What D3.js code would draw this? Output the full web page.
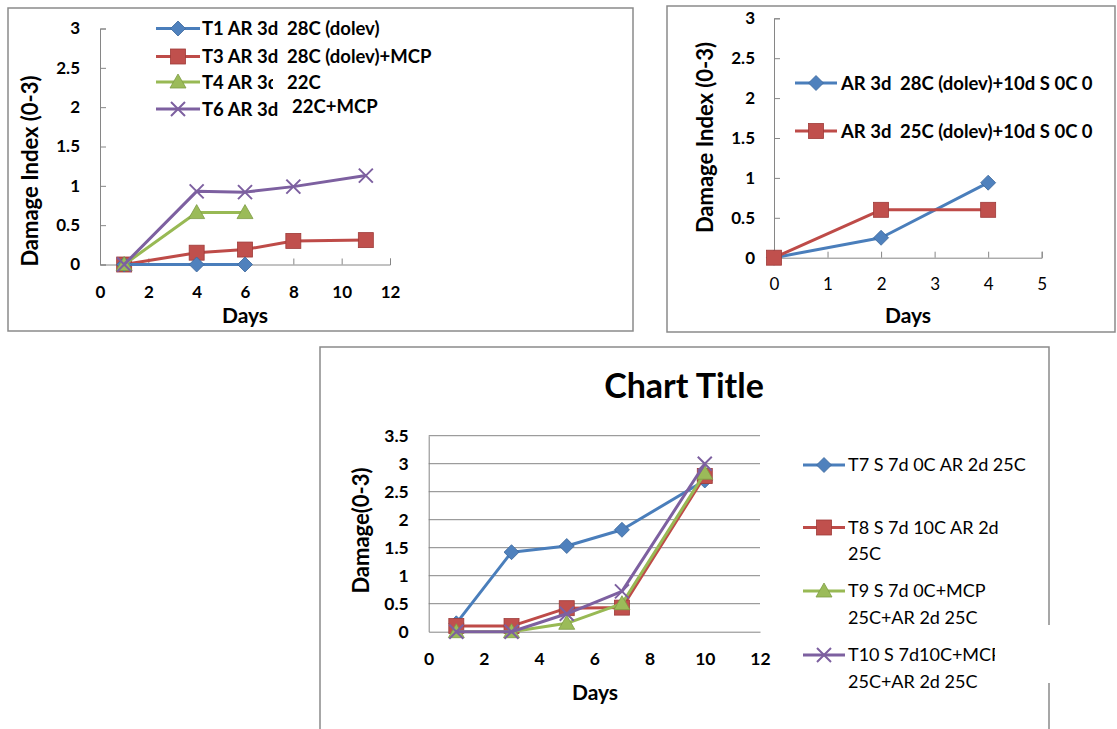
<!DOCTYPE html>
<html>
<head>
  <meta charset="utf-8" />
  <title>Damage index charts</title>
  <script src="https://cdn.jsdelivr.net/npm/d3@7"></script>
  <style>
    body{ margin:0; background:white; }
    text{ font-family: Lato, "Open Sans", sans-serif; fill:#000; }
  </style>
</head>
<body>
<script>
// - - - - - DATA - - - - - //
// chart A (top left)
var daysA_short = [1, 4, 6];
var daysA_long = [1, 4, 6, 8, 11];
var t1 = [0, 0, 0];
var t3 = [0, 0.15, 0.19, 0.30, 0.31];
var t4 = [0, 0.66, 0.66];
var t6 = [0, 0.93, 0.92, 0.99, 1.13];
var labelsA = [["T1 AR 3d", "28C (dolev)"], ["T3 AR 3d", "28C (dolev)+MCP"], ["T4 AR 3d", "22C"], ["T6 AR 3d", "22C+MCP"]];
var xTicksA = [0, 2, 4, 6, 8, 10, 12];
var yTicksA = [0, 0.5, 1, 1.5, 2, 2.5, 3];

// chart B (top right)
var daysB = [0, 2, 4];
var b28 = [0, 0.25, 0.94];
var b25 = [0, 0.60, 0.60];
var labelsB = [["AR 3d", "28C (dolev)+10d S 0C 0"], ["AR 3d", "25C (dolev)+10d S 0C 0"]];
var xTicksB = [0, 1, 2, 3, 4, 5];
var yTicksB = [0, 0.5, 1, 1.5, 2, 2.5, 3];

// chart C (bottom)
var daysC = [1, 3, 5, 7, 10];
var t7 = [0.15, 1.42, 1.53, 1.82, 2.70];
var t8 = [0.10, 0.10, 0.42, 0.43, 2.78];
var t9 = [0, 0, 0.15, 0.50, 2.83];
var t10 = [0, 0, 0.32, 0.72, 3.00];
var labelsC = [["T7 S 7d 0C AR 2d 25C"], ["T8 S 7d 10C AR 2d", "25C"], ["T9 S 7d 0C+MCP", "25C+AR 2d 25C"], ["T10 S 7d10C+MCP", "25C+AR 2d 25C"]];
var xTicksC = [0, 2, 4, 6, 8, 10, 12];
var yTicksC = [0, 0.5, 1, 1.5, 2, 2.5, 3, 3.5];

// - - - - - STYLE - - - - - //
var colors = {
  blue:   {line:"#4A7EBB", fill:"#4F81BD", edge:"#3C679A"},
  red:    {line:"#BE4B48", fill:"#C0504D", edge:"#9E3B39"},
  green:  {line:"#98B954", fill:"#9BBB59", edge:"#7E9C45"},
  purple: {line:"#7D60A0", fill:"#8064A2", edge:"#7D60A0"}
};
var axisGray = "#868686";
var boxGray = "#8a8a8a";
var fmt = d3.format("");

var svg = d3.select("body").append("svg")
  .attr("width", 1117).attr("height", 729);

var defs = svg.append("defs");
defs.append("clipPath").attr("id", "clipT4")
  .append("rect").attr("x", 190).attr("y", 60).attr("width", 83).attr("height", 40);
defs.append("clipPath").attr("id", "clipT10")
  .append("rect").attr("x", 840).attr("y", 630).attr("width", 155).attr("height", 40);

// - - - - - CHART BOXES - - - - - //
svg.append("rect").attr("x", 8).attr("y", 8).attr("width", 625).attr("height", 323)
  .attr("fill", "none").attr("stroke", boxGray).attr("stroke-width", 1.5);
svg.append("rect").attr("x", 667).attr("y", 6).attr("width", 448).attr("height", 326)
  .attr("fill", "none").attr("stroke", boxGray).attr("stroke-width", 1.5);
svg.append("path").attr("d", "M320,729 L320,347 L1049,347 L1049,625 M1049,683 L1049,729")
  .attr("fill", "none").attr("stroke", boxGray).attr("stroke-width", 1.5);

// - - - - - MARKERS - - - - - //
var drawMarker = function(g, shape, c, x, y){
  if(shape == "diamond"){
    g.append("path").attr("d", "M0,-7.5L7.5,0L0,7.5L-7.5,0Z")
      .attr("transform", "translate(" + x + "," + y + ")")
      .attr("fill", c.fill).attr("stroke", c.edge).attr("stroke-width", 0.8);
  } else if(shape == "square"){
    g.append("rect").attr("x", x - 7.5).attr("y", y - 7.5).attr("width", 15).attr("height", 15)
      .attr("fill", c.fill).attr("stroke", c.edge).attr("stroke-width", 0.8);
  } else if(shape == "triangle"){
    g.append("path").attr("d", "M0,-8L8,6L-8,6Z")
      .attr("transform", "translate(" + x + "," + y + ")")
      .attr("fill", c.fill).attr("stroke", c.edge).attr("stroke-width", 0.8);
  } else {
    g.append("path").attr("d", "M-7,-7L7,7M-7,7L7,-7")
      .attr("transform", "translate(" + x + "," + y + ")")
      .attr("fill", "none").attr("stroke", c.line).attr("stroke-width", 2);
  }
};

var drawSeries = function(g, xs, ys, days, vals, shape, c){
  var pts = days.map(function(d, i){ return [d, vals[i]]; });
  var line = d3.line().x(function(p){ return xs(p[0]); }).y(function(p){ return ys(p[1]); });
  g.append("path").datum(pts).attr("d", line)
    .attr("fill", "none").attr("stroke", c.line).attr("stroke-width", 3)
    .attr("stroke-linejoin", "round");
  pts.forEach(function(p){ drawMarker(g, shape, c, xs(p[0]), ys(p[1])); });
};

var legendKey = function(g, x0, x1, y, shape, c){
  g.append("line").attr("x1", x0).attr("x2", x1).attr("y1", y).attr("y2", y)
    .attr("stroke", c.line).attr("stroke-width", 3);
  drawMarker(g, shape, c, (x0 + x1) / 2, y);
};

var styleAxis = function(a, size, weight){
  a.select(".domain").attr("stroke", axisGray);
  a.selectAll(".tick line").attr("stroke", axisGray);
  a.selectAll("text").style("font-family", "Lato, sans-serif")
    .attr("font-size", size).attr("font-weight", weight).attr("fill", "#000");
};

// - - - - - CHART A - - - - - //
var gA = svg.append("g");
var xA = d3.scaleLinear().domain([0, 12]).range([100, 390]);
var yA = d3.scaleLinear().domain([0, 3]).range([264.5, 28.5]);

var axA = gA.append("g").attr("transform", "translate(0," + yA(0) + ")")
  .call(d3.axisBottom(xA).tickValues(xTicksA).tickFormat(fmt).tickSize(-6).tickSizeOuter(-6).tickPadding(21));
styleAxis(axA, 17, "bold");
var ayA = gA.append("g").attr("transform", "translate(" + xA(0) + ",0)")
  .call(d3.axisLeft(yA).tickValues(yTicksA).tickFormat(fmt).tickSize(-6).tickSizeOuter(-6).tickPadding(20));
styleAxis(ayA, 17, "bold");

gA.append("text").attr("x", 245).attr("y", 323).attr("text-anchor", "middle")
  .attr("font-size", 21).attr("font-weight", "bold").text("Days");
gA.append("text").attr("transform", "translate(37.5,171) rotate(-90)").attr("text-anchor", "middle")
  .attr("font-size", 22).attr("font-weight", "bold").text("Damage Index (0-3)");

drawSeries(gA, xA, yA, daysA_long, t3, "square", colors.red);
drawSeries(gA, xA, yA, daysA_short, t1, "diamond", colors.blue);
drawSeries(gA, xA, yA, daysA_short, t4, "triangle", colors.green);
drawSeries(gA, xA, yA, daysA_long, t6, "x", colors.purple);

var legA = gA.append("g");
var rowsA = [28.5, 56.5, 82, 109];
var shapesA = ["diamond", "square", "triangle", "x"];
var colsA = [colors.blue, colors.red, colors.green, colors.purple];
labelsA.forEach(function(l, i){
  legendKey(legA, 156, 200, rowsA[i], shapesA[i], colsA[i]);
  var t = legA.append("text").attr("x", 202).attr("y", rowsA[i]).attr("dy", "0.36em")
    .attr("font-size", 18.5).attr("font-weight", "bold").text(l[0]);
  if(i == 2) t.attr("clip-path", "url(#clipT4)");
  var x2 = i == 3 ? 292 : 287;
  var y2 = i == 3 ? rowsA[i] - 3 : rowsA[i];
  legA.append("text").attr("x", x2).attr("y", y2).attr("dy", "0.36em")
    .attr("font-size", 18.5).attr("font-weight", "bold").text(l[1]);
});

// - - - - - CHART B - - - - - //
var gB = svg.append("g");
var xB = d3.scaleLinear().domain([0, 5]).range([774, 1041.7]);
var yB = d3.scaleLinear().domain([0, 3]).range([257.7, 18.3]);

var axB = gB.append("g").attr("transform", "translate(0," + yB(0) + ")")
  .call(d3.axisBottom(xB).tickValues(xTicksB).tickFormat(fmt).tickSize(-6).tickSizeOuter(-6).tickPadding(20));
styleAxis(axB, 17, "normal");
var ayB = gB.append("g").attr("transform", "translate(" + xB(0) + ",0)")
  .call(d3.axisLeft(yB).tickValues(yTicksB).tickFormat(fmt).tickSize(-6).tickSizeOuter(-6).tickPadding(19));
styleAxis(ayB, 17, "bold");

gB.append("text").attr("x", 908).attr("y", 323).attr("text-anchor", "middle")
  .attr("font-size", 21).attr("font-weight", "bold").text("Days");
gB.append("text").attr("transform", "translate(712.5,137.5) rotate(-90)").attr("text-anchor", "middle")
  .attr("font-size", 22).attr("font-weight", "bold").text("Damage Index (0-3)");

drawSeries(gB, xB, yB, daysB, b28, "diamond", colors.blue);
drawSeries(gB, xB, yB, daysB, b25, "square", colors.red);

var legB = gB.append("g");
var rowsB = [83, 131];
var shapesB = ["diamond", "square"];
var colsB = [colors.blue, colors.red];
labelsB.forEach(function(l, i){
  legendKey(legB, 795, 837, rowsB[i], shapesB[i], colsB[i]);
  legB.append("text").attr("x", 841).attr("y", rowsB[i]).attr("dy", "0.36em")
    .attr("font-size", 18.5).attr("font-weight", "bold").text(l[0]);
  legB.append("text").attr("x", 900).attr("y", rowsB[i]).attr("dy", "0.36em")
    .attr("font-size", 18.5).attr("font-weight", "bold").text(l[1]);
});

// - - - - - CHART C - - - - - //
var gC = svg.append("g");
var xC = d3.scaleLinear().domain([0, 12]).range([428.7, 760]);
var yC = d3.scaleLinear().domain([0, 3.5]).range([631.7, 435.7]);

gC.append("g").selectAll("line").data(yTicksC.slice(1)).enter().append("line")
  .attr("x1", xC(0)).attr("x2", xC(12))
  .attr("y1", function(d){ return yC(d); }).attr("y2", function(d){ return yC(d); })
  .attr("stroke", axisGray).attr("stroke-width", 1);

var axC = gC.append("g").attr("transform", "translate(0," + yC(0) + ")")
  .call(d3.axisBottom(xC).tickValues(xTicksC).tickFormat(fmt).tickSize(0).tickPadding(21));
styleAxis(axC, 17.5, "bold");
var ayC = gC.append("g").attr("transform", "translate(" + xC(0) + ",0)")
  .call(d3.axisLeft(yC).tickValues(yTicksC).tickFormat(fmt).tickSize(0).tickPadding(20));
styleAxis(ayC, 17.5, "bold");

gC.append("text").attr("x", 684).attr("y", 398).attr("text-anchor", "middle")
  .attr("font-size", 34).attr("font-weight", "bold").text("Chart Title");
gC.append("text").attr("x", 595).attr("y", 700).attr("text-anchor", "middle")
  .attr("font-size", 21).attr("font-weight", "bold").text("Days");
gC.append("text").attr("transform", "translate(368.5,530.5) rotate(-90)").attr("text-anchor", "middle")
  .attr("font-size", 22).attr("font-weight", "bold").text("Damage(0-3)");

drawSeries(gC, xC, yC, daysC, t7, "diamond", colors.blue);
drawSeries(gC, xC, yC, daysC, t8, "square", colors.red);
drawSeries(gC, xC, yC, daysC, t9, "triangle", colors.green);
drawSeries(gC, xC, yC, daysC, t10, "x", colors.purple);

var legC = gC.append("g");
var rowsC = [465, 527.5, 591, 655];
var shapesC = ["diamond", "square", "triangle", "x"];
var colsC = [colors.blue, colors.red, colors.green, colors.purple];
labelsC.forEach(function(l, i){
  legendKey(legC, 803, 845, rowsC[i], shapesC[i], colsC[i]);
  l.forEach(function(s, j){
    var t = legC.append("text").attr("x", 848).attr("y", rowsC[i] + j * 26.5).attr("dy", "0.36em")
      .attr("font-size", 18).text(s);
    if(i == 3 && j == 0) t.attr("clip-path", "url(#clipT10)");
  });
});
</script>
</body>
</html>
